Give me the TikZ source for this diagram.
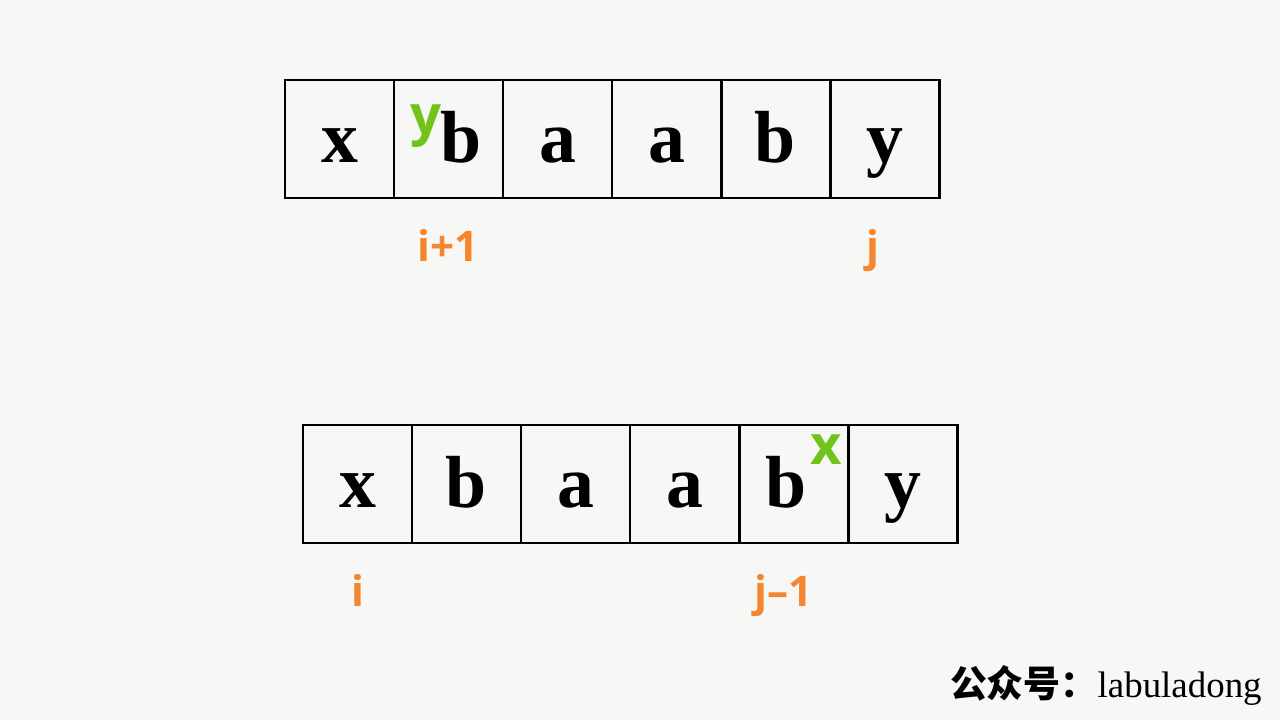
\documentclass[tikz,border=0pt]{standalone}
\usepackage{fontspec}
\setmainfont{Liberation Serif}
\newfontfamily\idxfont{Open Sans}
\newfontfamily\cjk{Noto Sans CJK SC}
\usetikzlibrary{positioning}

\definecolor{idxorange}{HTML}{F5862E}
\definecolor{swapgreen}{HTML}{72C21C}
\definecolor{paper}{HTML}{F7F7F5}

\tikzset{cell/.style={draw=black, line width=1.7pt,
                      minimum width=2.18cm, minimum height=2.36cm,
                      inner sep=0pt},
         letter/.style={inner sep=0pt, text height=1.2cm, text depth=0.24cm,
                        font=\bfseries\fontsize{42}{42}\selectfont},
         idx/.style={text=idxorange, inner sep=0pt,
                     font=\idxfont\bfseries\fontsize{24}{24}\selectfont},
         swapmark/.style={text=swapgreen, inner sep=0pt,
                          font=\idxfont\bfseries\fontsize{31}{31}\selectfont}}

\begin{document}
\begin{tikzpicture}

  \fill[paper] (0,0) rectangle (25.6,14.4);
  \useasboundingbox (0,0) rectangle (25.6,14.4);

%%% top row --> y moved in front, window i+1 .. j
  \foreach \ch/\dx [count=\k] in {x/0,b/0.26,a/0,a/0,b/0,y/0}{
    \node[cell] (t\k) at ({6.79+(\k-1)*2.18},11.62) {};
    \node[letter] (tl\k) at ([xshift=\dx cm]t\k.center) {\ch};
  }

  \node[swapmark] (gy) at ([xshift=-0.46cm,yshift=0.26cm]t2.center) {y};

  \node[idx, below=0.6cm of t2] (ti) {i+1};
  \node[idx, below=0.6cm of t6, xshift=-0.24cm] (tj) {j};

%%% bottom row --> x moved to the back, window i .. j-1
  \foreach \ch/\dx [count=\k] in {x/0,b/0,a/0,a/0,b/-0.14,y/0}{
    \node[cell] (b\k) at ({7.15+(\k-1)*2.18},4.72) {};
    \node[letter] (bl\k) at ([xshift=\dx cm]b\k.center) {\ch};
  }

  \node[swapmark] (gx) at ([xshift=0.66cm,yshift=0.68cm]b5.center) {x};

  \node[idx, below=0.6cm of b1] (bi) {i};
  \node[idx, below=0.6cm of b5, xshift=-0.2cm] (bj) {j–1};

  \node[anchor=east, inner sep=0pt, font=\fontsize{21}{21}\selectfont]
    (wm) at (25.24,0.7) {{\cjk\bfseries 公众号：}labuladong};

\end{tikzpicture}
\end{document}
